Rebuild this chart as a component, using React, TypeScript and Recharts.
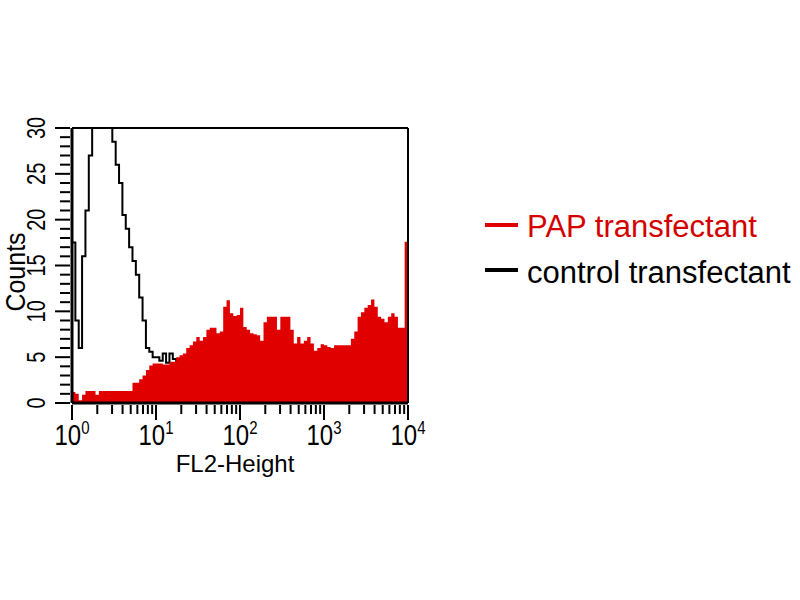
import React from 'react';
import { ComposedChart, Area, XAxis, YAxis, ReferenceLine } from 'recharts';

// FL2 channels, 0.04 decade per bin (counts per bin)
const papCounts = [
  1.2, 1.0, 0.3, 0.9, 1.3, 1.3, 1.3, 0.9, 1.3, 1.3,
  1.3, 1.3, 1.3, 1.3, 1.3, 1.3, 1.3, 1.3, 2.2, 2.2,
  2.6, 3.0, 3.6, 4.1, 4.3, 4.3, 4.3, 4.2, 4.2, 4.5,
  4.5, 5.0, 5.2, 5.4, 6.0, 6.3, 6.7, 7.2, 6.8, 7.2,
  8.0, 8.2, 8.2, 7.6, 7.8, 10.5, 11.2, 9.8, 9.5, 9.6,
  10.4, 8.3, 8.0, 7.6, 7.5, 7.4, 6.8, 8.8, 9.4, 9.4,
  9.4, 8.0, 9.4, 9.4, 9.4, 8.0, 6.5, 7.2, 6.5, 6.8,
  7.2, 6.5, 5.7, 6.0, 6.4, 6.3, 6.1, 6.0, 6.3, 6.3,
  6.3, 6.3, 6.3, 7.0, 7.8, 9.4, 9.9, 10.4, 10.7, 11.3,
  10.5, 9.4, 9.2, 8.8, 9.4, 9.8, 9.4, 8.2, 8.2, 17.6,
];

const controlCounts = [
  17.5, 9.0, 6.0, 16.0, 21.0, 27.0, 33, 35, 36, 35,
  34, 33, 28.5, 26.0, 24.0, 20.5, 19.0, 17.0, 15.5, 14.0,
  11.5, 9.0, 6.0, 5.6, 5.0, 5.0, 4.6, 5.4, 4.4, 5.4,
  4.8, 3.5, 3.0, 2.5, 2.0, 2.0, 1.5, 1.0, 1.0, 1.0,
  0.5, 0.5, 0, 0.5, 0, 0, 0.5, 0, 0, 0,
  0, 0, 0, 0, 0, 0, 0, 0, 0, 0,
  0, 0, 0, 0, 0, 0, 0, 0, 0, 0,
  0, 0, 0, 0, 0, 0, 0, 0, 0, 0,
  0, 0, 0, 0, 0, 0, 0, 0, 0, 0,
  0, 0, 0, 0, 0, 0, 0, 0, 0, 0,
];

const BIN = 0.04;
const decades = [0, 1, 2, 3];
const minorSteps = [1, 2, 3, 4, 5, 6, 7, 8, 9];
const xTicks = [...decades.flatMap((d) => minorSteps.map((k) => d + Math.log10(k))), 4];
const yTicks = Array.from({ length: 31 }, (_, i) => i);

const legendItems = [
  { label: 'PAP transfectant', line: '#e00000', text: '#d40000' },
  { label: 'control transfectant', line: '#000', text: '#000' },
];

// one extra point at the right edge so the last step is drawn
const table = Array.from({ length: papCounts.length + 1 }, (_, i) => {
  const j = Math.min(i, papCounts.length - 1);
  return { ch: +(i * BIN).toFixed(2), pap: papCounts[j], control: controlCounts[j] };
});

const FONT = '"Liberation Sans", Arial, sans-serif';
const isMajor = (v: number) => Math.abs(v - Math.round(v)) < 1e-6;

const XTick = (props: any) => {
  const { x, y, payload } = props;
  const v = payload.value as number;
  const major = isMajor(v);
  return (
    <g>
      <line x1={x} x2={x} y1={y} y2={y + (major ? 15 : 9)} stroke="#000" strokeWidth={2} />
      {major && (
        <text transform={`translate(${x},${y + 40}) scale(1,1.2)`} textAnchor="middle" fontFamily={FONT} fontSize={24} fill="#000">
          <tspan>10</tspan>
          <tspan dy={-9} fontSize={15}>{Math.round(v)}</tspan>
        </text>
      )}
    </g>
  );
};

const YTick = (props: any) => {
  const { x, y, payload } = props;
  const v = payload.value as number;
  const major = v % 5 === 0;
  return (
    <g>
      <line x1={x - (major ? 15 : 10)} x2={x} y1={y} y2={y} stroke="#000" strokeWidth={2} />
      {major && (
        <text transform={`translate(${x - 25},${y}) rotate(-90) scale(1,1.3)`} textAnchor="middle" fontFamily={FONT} fontSize={20} fill="#000">
          {v}
        </text>
      )}
    </g>
  );
};

export default function App() {
  return (
    <div style={{ position: 'absolute', left: 0, top: 0, width: 800, height: 600, background: '#fff' }}>
      <ComposedChart width={800} height={600} data={table} margin={{ top: 128, right: 392, bottom: 0, left: 0 }}>
        <XAxis
          dataKey="ch"
          type="number"
          domain={[0, 4]}
          ticks={xTicks}
          interval={0}
          tickSize={0}
          tickLine={false}
          tick={<XTick />}
          axisLine={{ stroke: '#000', strokeWidth: 3 }}
          height={197}
        />
        <YAxis
          type="number"
          domain={[0, 30]}
          ticks={yTicks}
          interval={0}
          tickSize={0}
          tickLine={false}
          tick={<YTick />}
          axisLine={{ stroke: '#000', strokeWidth: 3 }}
          allowDataOverflow
          width={72}
        />
        {/* control drawn as an unfilled area so the PAP fill covers it */}
        <Area type="stepAfter" dataKey="control" stroke="#000" strokeWidth={2} fill="none" fillOpacity={0} baseValue={0} isAnimationActive={false} />
        <Area type="stepAfter" dataKey="pap" stroke="none" fill="#e00000" fillOpacity={1} baseValue={0} isAnimationActive={false} />
        <ReferenceLine y={30} stroke="#000" strokeWidth={2} />
        <ReferenceLine x={4} stroke="#000" strokeWidth={2} />
      </ComposedChart>
      <svg width={800} height={600} style={{ position: 'absolute', left: 0, top: 0, pointerEvents: 'none' }}>
        <text x={235} y={472} textAnchor="middle" fontFamily={FONT} fontSize={24} fill="#000">FL2-Height</text>
        <text transform="translate(25,272) rotate(-90) scale(1,1.1)" textAnchor="middle" fontFamily={FONT} fontSize={25} fill="#000">Counts</text>
        {legendItems.map((item, i) => (
          <g key={item.label}>
            <line x1={485} x2={518} y1={225 + i * 45} y2={225 + i * 45} stroke={item.line} strokeWidth={4} />
            <text x={527} y={237 + i * 46} fontFamily={FONT} fontSize={31} fill={item.text}>
              {item.label}
            </text>
          </g>
        ))}
      </svg>
    </div>
  );
}
